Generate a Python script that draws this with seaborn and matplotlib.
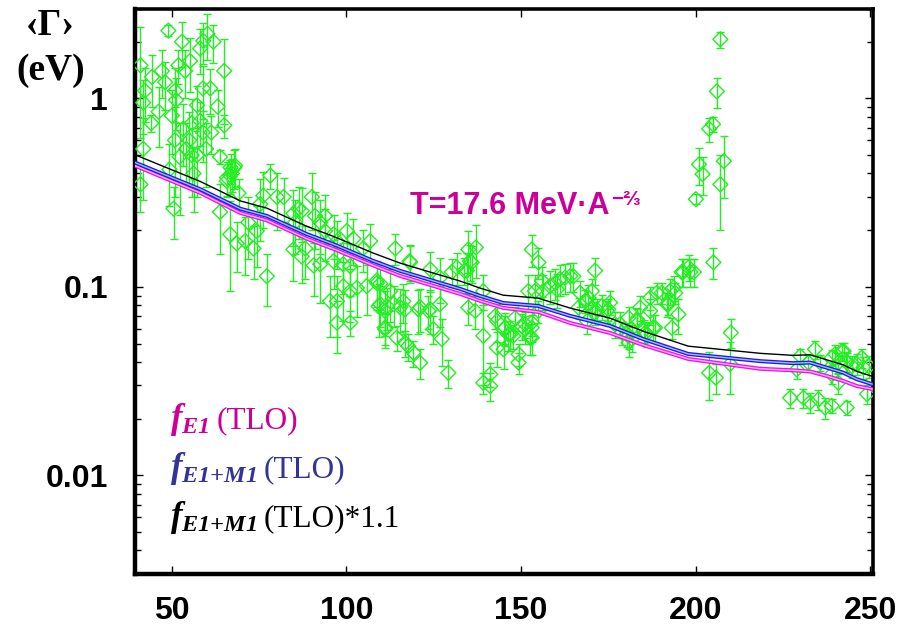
import matplotlib
matplotlib.use("Agg")
import numpy as np
import pandas as pd
import matplotlib.pyplot as plt
import seaborn as sns
from matplotlib.ticker import FixedLocator, FixedFormatter, LogLocator, NullFormatter

# ---------------------------------------------------------------------------
# Average radiative widths <Gamma> (eV) versus mass number A
# ---------------------------------------------------------------------------
A_light = [49.0, 41.0, 44.3, 47.1, 48.1, 51.9, 52.9, 55.2, 53.8, 58.1, 59.0, 60.2, 61.9, 65.0,
           61.0, 58.9, 50.9, 42.3, 51.2, 57.2, 63.1, 41.8, 44.1, 46.2, 50.0, 53.2, 55.7, 58.1,
           58.9, 61.3, 65.0, 41.8, 50.9, 55.0, 54.1, 59.8, 52.2, 55.7, 57.2, 63.8, 67.9, 66.7,
           65.7, 69.1, 41.0, 49.3, 56.2, 50.5, 63.8]
G_light = [2.29, 1.50, 1.30, 1.40, 1.22, 1.50, 2.00, 1.58, 1.40, 1.84, 2.02, 2.20, 2.00, 1.40,
           1.13, 1.13, 1.10, 1.10, 0.98, 0.92, 0.905, 0.95, 0.74, 0.85, 0.81, 0.69, 0.74, 0.76,
           0.66, 0.66, 0.72, 0.54, 0.60, 0.60, 0.54, 0.54, 0.49, 0.50, 0.50, 0.49, 0.43, 0.39,
           0.365, 0.315, 0.35, 0.42, 0.40, 0.26, 0.25]
dG_light = [0.15, 0.88, 0.40, 0.40, 0.35, 0.30, 0.53, 0.50, 0.40, 0.50, 0.50, 0.60, 0.45, 0.67,
            0.30, 0.35, 0.35, 0.35, 0.30, 0.25, 0.20, 0.30, 0.08, 0.30, 0.30, 0.25, 0.25, 0.20,
            0.20, 0.15, 0.10, 0.25, 0.30, 0.25, 0.20, 0.20, 0.25, 0.20, 0.20, 0.04, 0.10, 0.08,
            0.06, 0.06, 0.10, 0.15, 0.15, 0.08, 0.10]

A_mid = [66.8, 68.1, 65.8, 67.2, 66.7, 68.6, 71.0, 73.4, 71.9, 74.3, 75.3, 76.2, 78.2, 80.1,
         82.0, 77.2, 84.8, 86.3, 87.2, 85.3, 90.1, 84.8, 87.2, 88.2, 90.6, 92.5, 91.0, 92.5,
         93.9, 93.9, 96.3, 97.3, 100.1, 102.0, 96.3, 99.1, 101.1, 106.8, 104.8, 114.0, 118.2,
         124.0, 126.8, 130.2, 97.3, 99.1, 101.1, 103.0, 105.8, 108.7, 109.7, 111.6, 113.5,
         115.4, 116.8, 121.1, 124.0, 126.8, 112.5, 109.7, 97.3, 101.1, 111.1, 114.4, 116.8,
         117.7, 119.2, 121.1, 124.9, 127.3, 129.2, 95.3, 108.7, 109.2, 111.1, 116.3, 120.6,
         123.5, 118.1, 111.1]
G_mid = [0.43, 0.44, 0.38, 0.40, 0.19, 0.17, 0.175, 0.16, 0.22, 0.198, 0.275, 0.305, 0.39, 0.30,
         0.30, 0.114, 0.245, 0.26, 0.253, 0.22, 0.30, 0.158, 0.145, 0.16, 0.13, 0.132, 0.238, 0.22,
         0.238, 0.198, 0.19, 0.175, 0.198, 0.18, 0.137, 0.132, 0.129, 0.175, 0.16, 0.16, 0.135,
         0.124, 0.112, 0.12, 0.084, 0.101, 0.095, 0.099, 0.101, 0.108, 0.081, 0.079, 0.081,
         0.078, 0.076, 0.078, 0.076, 0.081, 0.095, 0.104, 0.0646, 0.0646, 0.0597, 0.0538, 0.0506,
         0.0486, 0.0448, 0.0396, 0.0597, 0.053, 0.035, 0.084, 0.105, 0.079, 0.0746, 0.084, 0.076,
         0.0746, 0.137, 0.061]
dG_mid = [0.08, 0.10, 0.08, 0.08, 0.095, 0.05, 0.06, 0.05, 0.08, 0.07, 0.10, 0.10, 0.06, 0.10,
          0.08, 0.035, 0.08, 0.08, 0.08, 0.07, 0.10, 0.05, 0.04, 0.05, 0.04, 0.05, 0.08, 0.07,
          0.07, 0.06, 0.05, 0.05, 0.05, 0.05, 0.04, 0.04, 0.04, 0.04, 0.04, 0.03, 0.03,
          0.03, 0.03, 0.02, 0.03, 0.035, 0.03, 0.03, 0.03, 0.03, 0.02, 0.02, 0.02,
          0.02, 0.02, 0.02, 0.02, 0.02, 0.03, 0.03, 0.02, 0.01, 0.012, 0.008, 0.008,
          0.008, 0.007, 0.007, 0.01, 0.015, 0.006, 0.03, 0.03, 0.025, 0.02, 0.02, 0.02,
          0.015, 0.03, 0.012]

A_heavy = [131.6, 134.5, 135.4, 134.9, 137.1, 135.9, 133.8, 134.9, 136.9, 139.2, 139.2, 141.2,
           141.2, 143.1, 143.1, 145.0, 145.5, 146.4, 146.9, 148.3, 149.3, 149.3, 150.2, 151.2,
           153.1, 153.1, 155.0, 147.8, 139.2, 142.6, 145.0, 151.2, 153.1, 152.6,
           153.1, 155.0, 152.1, 154.0, 156.0, 156.4, 158.3, 159.8, 161.2, 162.6, 164.1, 165.0,
           160.3, 166.9, 169.3, 170.3, 171.2, 166.5, 168.4, 170.3, 171.7, 173.2, 174.6, 175.5,
           178.4, 180.8, 183.2, 180.3, 181.8, 185.1, 186.0, 184.1, 187.0, 187.9, 187.0, 188.9,
           190.3, 192.7, 193.7, 194.2, 191.8, 195.1, 193.2, 196.5, 198.0, 198.5, 196.0, 199.5,
           168.9, 171.2, 175.0, 176.9, 178.9, 180.8, 180.8, 183.2, 185.6, 188.4, 192.2]
G_heavy = [0.127, 0.122, 0.137, 0.158, 0.162, 0.135, 0.122, 0.0777, 0.0746, 0.055, 0.031, 0.0344,
           0.0298, 0.066, 0.0476, 0.0467, 0.0608, 0.056, 0.056, 0.0686, 0.044, 0.0397, 0.062, 0.0597,
           0.0646, 0.0538, 0.0746, 0.055, 0.095, 0.070, 0.0597, 0.0634, 0.0608, 0.0538,
           0.158, 0.135, 0.095, 0.095, 0.108, 0.095, 0.101, 0.105, 0.110, 0.112, 0.114, 0.114,
           0.097, 0.093, 0.0877, 0.095, 0.122, 0.0777, 0.0843, 0.0777, 0.076, 0.079, 0.0746, 0.0826,
           0.0634, 0.0686, 0.0674, 0.0562, 0.053, 0.0584, 0.0562, 0.0777, 0.0746, 0.0608, 0.0877, 0.093,
           0.093, 0.095, 0.099, 0.093, 0.081, 0.0716, 0.0608, 0.120, 0.127, 0.120, 0.120, 0.120,
           0.066, 0.073, 0.076, 0.0634, 0.0572, 0.055, 0.0506, 0.066, 0.0572, 0.0608, 0.081]
dG_heavy = [0.025, 0.03, 0.03, 0.04, 0.05, 0.03, 0.02, 0.015, 0.015, 0.025, 0.004, 0.005,
            0.005, 0.015, 0.01, 0.01, 0.012, 0.01, 0.01, 0.01, 0.006, 0.005, 0.01, 0.01,
            0.01, 0.01, 0.01, 0.008, 0.02, 0.01, 0.01, 0.01, 0.01, 0.01,
            0.03, 0.025, 0.02, 0.02, 0.02, 0.02, 0.02, 0.02, 0.02, 0.02, 0.02, 0.02,
            0.02, 0.015, 0.015, 0.015, 0.02, 0.01, 0.012, 0.01, 0.01, 0.012, 0.01, 0.012,
            0.01, 0.01, 0.01, 0.008, 0.008, 0.008, 0.008, 0.012, 0.012, 0.01, 0.012, 0.012,
            0.012, 0.015, 0.015, 0.012, 0.012, 0.015, 0.008, 0.02, 0.02, 0.02, 0.02, 0.02,
            0.01, 0.01, 0.01, 0.01, 0.008, 0.008, 0.008, 0.01, 0.008, 0.01, 0.01]

A_lead = [200.1, 201.0, 202.0, 203.9, 205.0, 206.1, 207.1, 208.1, 207.1, 205.1, 210.1, 209.9,
          203.9, 205.8]
G_lead = [0.292, 0.447, 0.397, 0.69, 0.73, 1.09, 2.06, 0.465, 0.35, 0.135, 0.0572, 0.039,
          0.035, 0.033]
dG_lead = [0.018, 0.10, 0.09, 0.10, 0.07, 0.20, 0.20, 0.17, 0.15, 0.025, 0.01, 0.012,
           0.01, 0.006]

A_act = [227.1, 229.0, 230.0, 230.9, 232.3, 232.8, 234.2, 235.2, 235.7, 237.1, 239.0, 239.0,
         239.0, 240.9, 242.4, 243.3, 243.3, 241.9, 244.8, 246.2, 247.6, 248.1, 249.1, 249.6,
         240.0, 243.1, 240.9]
G_act = [0.0258, 0.0365, 0.043, 0.0258, 0.0397, 0.0244, 0.0467, 0.0253, 0.0397, 0.0229, 0.0234,
         0.0421, 0.0344, 0.0397, 0.0457, 0.0229, 0.0397, 0.0457, 0.038, 0.039, 0.0421, 0.0374,
         0.027, 0.038, 0.044, 0.0404, 0.031]
dG_act = [0.003, 0.004, 0.004, 0.003, 0.004, 0.003, 0.005, 0.003, 0.004, 0.003, 0.002,
          0.004, 0.004, 0.005, 0.005, 0.002, 0.005, 0.005, 0.005, 0.005, 0.005, 0.005,
          0.003, 0.005, 0.005, 0.005, 0.004]

# Model curves (strength functions with T = 17.6 MeV A^-2/3)
A_curve = [39.3, 58.1, 69.6, 77.2, 88.7, 96.3, 107.7, 115.4, 132.6, 138.3, 144.9, 154.9,
           164.1, 175.5, 185.0, 197.9, 218.5, 228.0, 232.8, 237.6, 242.3, 246.2, 250.6]
G_E1M1 = [0.458, 0.330, 0.260, 0.238, 0.1905, 0.1685, 0.1374, 0.1216, 0.0976, 0.0896, 0.0822,
          0.0793, 0.0702, 0.0621, 0.0529, 0.0441, 0.0404, 0.0394, 0.0397, 0.0373, 0.0351,
          0.0324, 0.0305]
G_E1 = [0.441, 0.3157, 0.247, 0.2255, 0.180, 0.1591, 0.130, 0.1144, 0.0918, 0.0843, 0.0774,
        0.0737, 0.0644, 0.0570, 0.0492, 0.0415, 0.0368, 0.0361, 0.0356, 0.0337, 0.0317,
        0.0298, 0.0287]
scale_black = 1.1

y_ticks = [0.01, 0.1, 1]
y_ticklabels = ["0.01", "0.1", "1"]
x_ticks = [50, 100, 150, 200, 250]

# ---------------------------------------------------------------------------
pts = pd.DataFrame({
    "A": A_light + A_mid + A_heavy + A_lead + A_act,
    "G": G_light + G_mid + G_heavy + G_lead + G_act,
    "dG": dG_light + dG_mid + dG_heavy + dG_lead + dG_act,
})
curves = pd.DataFrame({
    "A": A_curve * 3,
    "G": G_E1 + G_E1M1 + [g * scale_black for g in G_E1M1],
    "model": ["E1"] * len(A_curve) + ["E1+M1"] * len(A_curve) + ["E1+M1 x1.1"] * len(A_curve),
})

sns.set_theme(style="ticks")
plt.rcParams["font.family"] = ["Liberation Sans", "DejaVu Sans"]
plt.rcParams.update({
    "mathtext.fontset": "custom",
    "mathtext.it": "Liberation Serif:italic:bold",
    "mathtext.rm": "Liberation Serif:italic:bold",
    "mathtext.bf": "Liberation Serif:italic:bold",
})

GREEN = "#22ee22"
MAGENTA = "#cc0099"
NAVY = "#333399"

fig = plt.figure(figsize=(9.15, 6.26), dpi=100)
ax = fig.add_axes([0.147, 0.0831, 0.807, 0.9033])
ax.set_yscale("log")
ax.set_xlim(39.3, 250.8)
ax.set_ylim(0.003, 3.0)

# data with error bars
ax.errorbar(pts["A"], pts["G"], yerr=pts["dG"], fmt="none", ecolor=GREEN,
            elinewidth=1.0, capsize=2.8, capthick=1.0, zorder=2)
sns.scatterplot(data=pts, x="A", y="G", marker="D", s=58, color=GREEN,
                ax=ax, zorder=3, legend=False)
sc = ax.collections[-1]
sc.set_facecolor("none")
sc.set_edgecolor(GREEN)
sc.set_linewidth(1.0)

# model curves: double-stroke coloured lines, thin black scaled curve
outer = {"E1": "#ee11ee", "E1+M1": "#1a1aee"}
inner = {"E1": "#ffb0ff", "E1+M1": "#a8b8ff"}
two = curves[curves["model"] != "E1+M1 x1.1"]
sns.lineplot(data=two, x="A", y="G", hue="model", palette=outer, lw=2.9,
             estimator=None, sort=False, legend=False, ax=ax, zorder=4)
sns.lineplot(data=two, x="A", y="G", hue="model", palette=inner, lw=1.0,
             estimator=None, sort=False, legend=False, ax=ax, zorder=5)
sns.lineplot(data=curves[curves["model"] == "E1+M1 x1.1"], x="A", y="G",
             color="black", lw=1.0, estimator=None, sort=False, legend=False,
             ax=ax, zorder=6)

# axes frame and ticks
for side in ["left", "bottom"]:
    ax.spines[side].set_linewidth(3.2)
for side in ["top", "right"]:
    ax.spines[side].set_linewidth(2.6)
for sp in ax.spines.values():
    sp.set_color("black")

ax.xaxis.set_major_locator(FixedLocator(x_ticks))
ax.yaxis.set_major_locator(FixedLocator(y_ticks))
ax.yaxis.set_major_formatter(FixedFormatter(y_ticklabels))
ax.yaxis.set_minor_locator(LogLocator(base=10, subs=np.arange(2, 10)))
ax.yaxis.set_minor_formatter(NullFormatter())
ax.tick_params(axis="both", which="major", direction="in", length=6, width=1,
               top=True, right=True, color="black", labelsize=23, labelcolor="black")
ax.tick_params(axis="y", which="minor", direction="in", length=4, width=1,
               left=True, right=True, color="black")
ax.tick_params(axis="y", which="major", pad=19)
ax.tick_params(axis="x", which="major", pad=16)
for lab in ax.get_xticklabels() + ax.get_yticklabels():
    lab.set_fontweight("bold")
    lab.set_fontfamily(["Liberation Sans", "DejaVu Sans"])
ax.set_xlabel("")
ax.set_ylabel("")

# y-axis title
serif_b = dict(family=["Liberation Serif", "DejaVu Serif"], fontweight="bold",
               fontsize=27, color="black")
fig.text(0.055, 0.960, "\u2039\u0393\u203a", ha="center", va="center", **serif_b)
fig.text(0.055, 0.888, "(eV)", ha="center", va="center", **serif_b)

# temperature annotation
t_main = ax.text(118.3, 0.244, "T=17.6 MeV\u00b7A", color=MAGENTA, fontsize=22,
                 fontweight="bold", ha="left", va="baseline",
                 family=["Liberation Sans", "DejaVu Sans"], zorder=7)

# legend lines
legend_rows = [
    (r"$\mathit{f}_{\mathit{E1}}$", "(TLO)", MAGENTA, 0.258),
    (r"$\mathit{f}_{\mathit{E1{+}M1}}$", "(TLO)", NAVY, 0.1715),
    (r"$\mathit{f}_{\mathit{E1{+}M1}}$", "(TLO)*1.1", "black", 0.0849),
]
math_texts = []
for sym, tail, col, yb in legend_rows:
    t = ax.text(0.048, yb, sym, transform=ax.transAxes, fontsize=25, color=col,
                ha="left", va="baseline", zorder=7)
    math_texts.append((t, tail, col, yb))

fig.canvas.draw()
renderer = fig.canvas.get_renderer()
inv = ax.transAxes.inverted()
for t, tail, col, yb in math_texts:
    bb = t.get_window_extent(renderer)
    x_ax = inv.transform((bb.x1 + 7, 0))[0]
    ax.text(x_ax, yb, tail, transform=ax.transAxes, fontsize=22.5, color=col,
            ha="left", va="baseline", family=["Liberation Serif", "DejaVu Serif"],
            zorder=7)

bb = t_main.get_window_extent(renderer)
x_sup, y_base = bb.x1 + 1, ax.transData.transform((118.3, 0.244))[1] + 9
fig.text(x_sup / fig.bbox.width, y_base / fig.bbox.height, "\u2212\u2154",
         color=MAGENTA, fontsize=15, fontweight="bold", ha="left", va="baseline",
         family=["Liberation Sans", "DejaVu Sans"])

fig.savefig("out.png", dpi=100)
